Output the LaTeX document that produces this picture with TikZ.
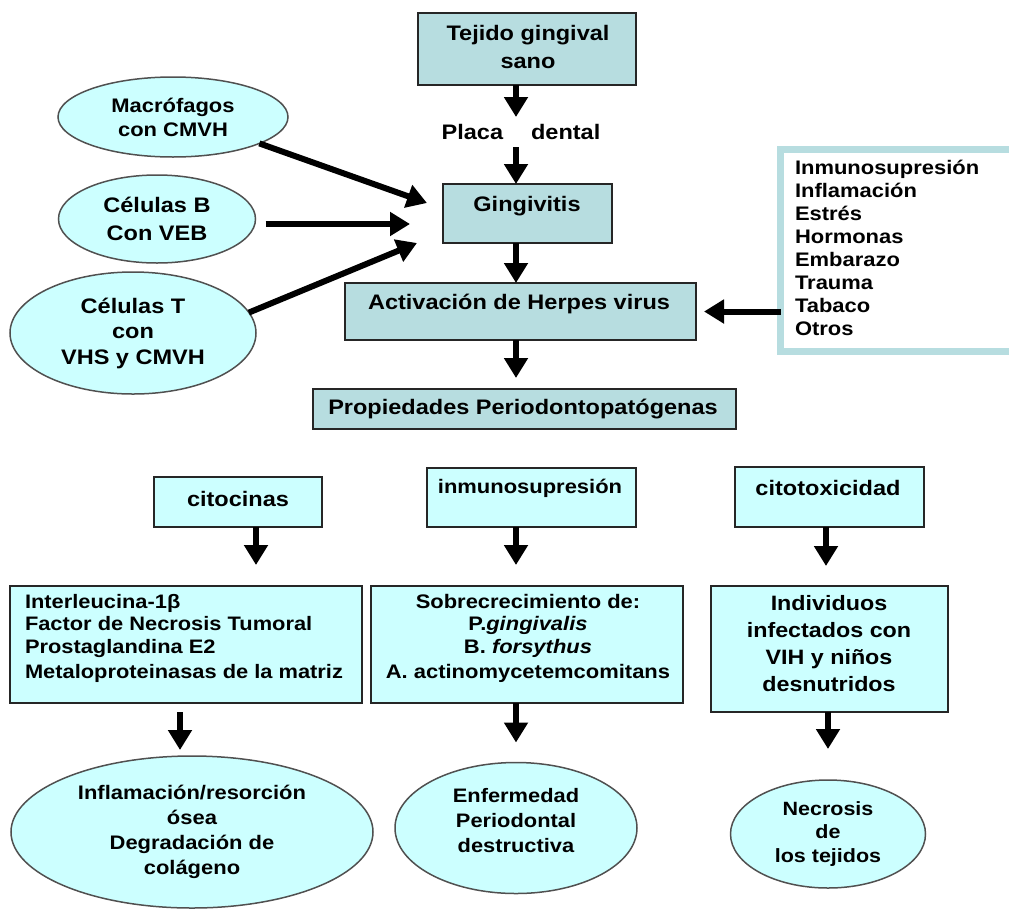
\documentclass[tikz,border=0pt]{standalone}
\usepackage{fontspec}
\setmainfont{Liberation Sans}[FakeStretch=1.12]
\usetikzlibrary{arrows.meta,shapes.geometric}
\definecolor{topfill}{HTML}{B7DDE0}
\definecolor{lowfill}{HTML}{CCFFFF}
\definecolor{edge}{HTML}{262626}
\definecolor{elledge}{HTML}{505050}
\tikzset{
  tbox/.style={draw=edge, line width=2pt, fill=topfill, inner sep=0pt, outer sep=0pt, anchor=north west},
  lbox/.style={draw=edge, line width=2pt, fill=lowfill, inner sep=0pt, outer sep=0pt, anchor=north west},
  ell/.style={ellipse, draw=elledge, line width=1.5pt, fill=lowfill, inner sep=0pt, outer sep=0pt, align=center},
  txt/.style={inner sep=0pt, outer sep=0pt, align=center},
  arr/.style={line width=6pt, -{Triangle[length=20pt,width=23pt]}},
}
\newcommand\fbig{\fontsize{21}{28}\selectfont\bfseries}
\newcommand\fmid{\fontsize{19.6}{24}\selectfont\bfseries}
\begin{document}
\begin{tikzpicture}[x=1pt,y=-1pt]
\useasboundingbox (0,0) rectangle (1009,911);
% column of arrows
\coordinate (ax) at (516,0);
\coordinate (xA) at (256,0);
\coordinate (xC) at (826,0);
\coordinate (xA2) at (180,0);
\coordinate (xC2) at (828,0);
% top boxes
\node[tbox, minimum width=218pt, minimum height=72pt] (tejido) at (418,13) {};
\node[txt, font=\fbig] (tejidoT) at (528,47) {Tejido gingival\\sano};
\node[txt, font=\fbig, minimum height=30pt] (placa) at (521,132) {Placa\hspace{28pt}dental};
\node[tbox, minimum width=169pt, minimum height=59pt] (ging) at (443,184) {};
\node[txt, font=\fbig] (gingT) at (527,206) {Gingivitis};
\node[tbox, minimum width=351pt, minimum height=57pt] (activ) at (345,283) {};
\node[txt, font=\fbig] (activT) at (519,304) {Activación de Herpes virus};
\node[tbox, minimum width=423pt, minimum height=40pt] (prop) at (313,389) {};
\node[txt, font=\fbig] (propT) at (523,409) {Propiedades Periodontopatógenas};
% factors box
\node[draw=topfill, line width=7pt, fill=white, inner sep=0pt, outer sep=0pt, anchor=north west,
      minimum width=260pt, minimum height=202pt] (fact) at (780.5,149.5) {};
\node[txt, align=left, anchor=west, font={\fontsize{19.6}{23}\selectfont\bfseries}] (factT) at (795,247.5)
  {Inmunosupresión\\Inflamación\\Estrés\\Hormonas\\Embarazo\\Trauma\\Tabaco\\Otros};
% left ellipses
\node[ell, minimum width=230pt, minimum height=80pt, font=\fmid] (macro) at (173,117) {Macrófagos\\con CMVH};
\node[ell, minimum width=197pt, minimum height=88pt, font=\fbig] (cellB) at (157,219) {Células B\\Con VEB};
\node[ell, minimum width=246pt, minimum height=122pt, font={\fontsize{21}{25.5}\selectfont\bfseries}] (cellT) at (133,333) {Células T\\con\\VHS y CMVH};
\coordinate (g1) at (427,203);
\coordinate (g2) at (410,224);
\coordinate (g3) at (417,243);
% lower boxes
\node[lbox, minimum width=168pt, minimum height=50pt] (cito) at (154,477) {};
\node[txt, font=\fbig] (citoT) at (238,499) {citocinas};
\node[lbox, minimum width=209pt, minimum height=59pt] (inmu) at (427,468) {};
\node[txt, font=\fmid] (inmuT) at (530,488) {inmunosupresión};
\node[lbox, minimum width=189pt, minimum height=60pt] (citot) at (735,467) {};
\node[txt, font=\fbig] (citotT) at (828,488) {citotoxicidad};
\node[lbox, minimum width=352pt, minimum height=117pt] (boxA) at (10,586) {};
\node[txt, align=left, anchor=west, font={\fontsize{19.5}{22.5}\selectfont\bfseries}] (boxAT) at (25,638.5)
  {Interleucina-1β\\Factor de Necrosis Tumoral\\Prostaglandina E2\\[3pt]Metaloproteinasas de la matriz};
\node[lbox, minimum width=312pt, minimum height=117pt] (boxB) at (371,586) {};
\node[txt, font={\fontsize{19.6}{22.5}\selectfont\bfseries}] (boxBT) at (528,638.5)
  {Sobrecrecimiento de:\\P.\textit{gingivalis}\\B. \textit{forsythus}\\[3pt]A. actinomycetemcomitans};
\node[lbox, minimum width=237pt, minimum height=126pt] (boxC) at (711,586) {};
\node[txt, font={\fontsize{20.8}{27}\selectfont\bfseries}] (boxCT) at (829,643.5)
  {Individuos\\infectados con\\VIH y niños\\desnutridos};
% bottom ellipses
\node[ell, minimum width=362pt, minimum height=152pt, font={\fontsize{19.6}{25}\selectfont\bfseries}] (e1) at (192,832)
  {Inflamación/resorción\\ósea\\Degradación de\\colágeno};
\node[ell, minimum width=242pt, minimum height=131pt] (e2) at (516,828) {};
\node[txt, font={\fontsize{19.5}{25}\selectfont\bfseries}] (e2T) at (516,821)
  {Enfermedad\\Periodontal\\destructiva};
\node[ell, minimum width=195pt, minimum height=108pt, font={\fontsize{19.2}{23.5}\selectfont\bfseries}] (e3) at (828,834)
  {Necrosis\\de\\los tejidos};
% arrows, main column
\draw[arr] (tejido.south -| ax) -- (placa.north -| ax);
\draw[arr] (placa.south -| ax) -- (ging.north -| ax);
\draw[arr] (ging.south -| ax) -- (activ.north -| ax);
\draw[arr, shorten >=11pt] (activ.south -| ax) -- (prop.north -| ax);
\draw[arr, shorten >=8pt] (fact.west |- activ) -- (activ.east);
% arrows from left ellipses
\draw[arr] (macro.-17) -- (g1);
\draw[arr, shorten <=10pt] (cellB.east |- g2) -- (g2);
\draw[arr] (cellT.10) -- (g3);
% lower arrows
\draw[arr, shorten >=21pt] (cito.south -| xA) -- (boxA.north -| xA);
\draw[arr, shorten >=21pt] (inmu.south -| ax) -- (boxB.north -| ax);
\draw[arr, shorten >=20pt] (citot.south -| xC) -- (boxC.north -| xC);
\draw[arr, shorten <=9pt, shorten >=6pt] (boxA.south -| xA2) -- (e1.north -| xA2);
\draw[arr, shorten >=20pt] (boxB.south -| ax) -- (e2.north -| ax);
\draw[arr, shorten >=31pt] (boxC.south -| xC2) -- (e3.north -| xC2);
\end{tikzpicture}
\end{document}
